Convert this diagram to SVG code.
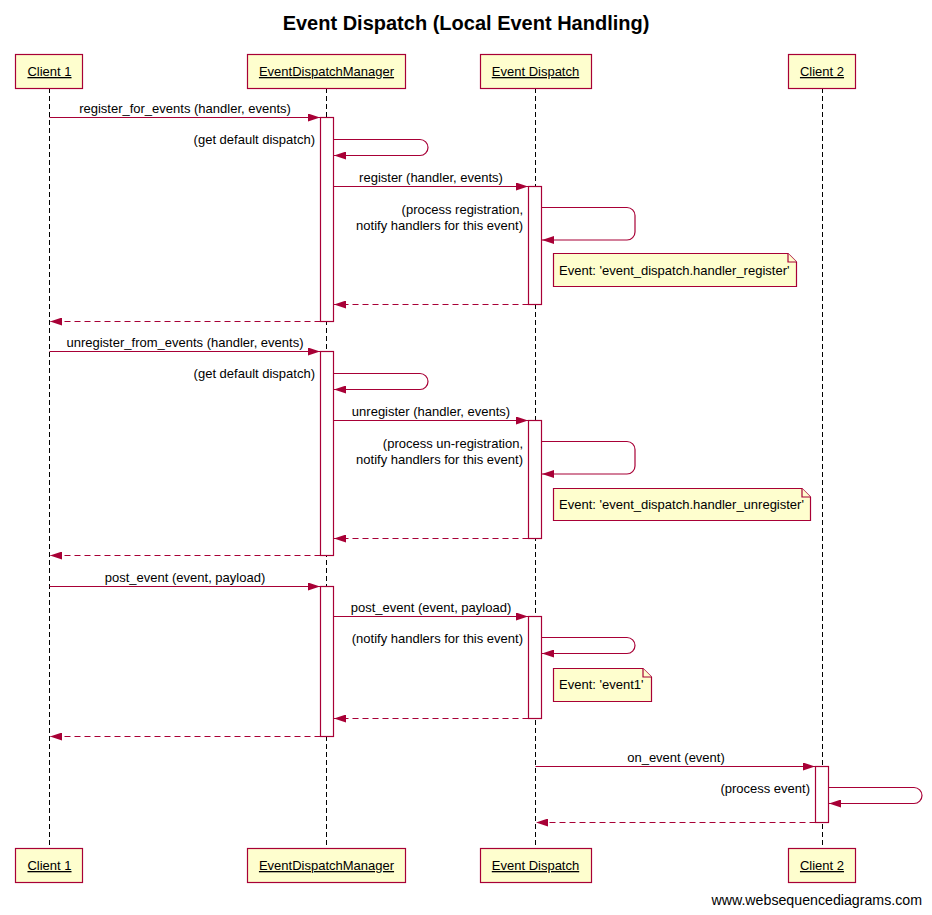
<svg xmlns="http://www.w3.org/2000/svg" width="932" height="915" viewBox="0 0 932 915">
<style>
text{font-family:"Liberation Sans",Arial,sans-serif;font-size:13px;fill:#000}
.title{font-size:20px;font-weight:bold}
.foot{font-size:14.2px}
.pbox{fill:#FEFECE;stroke:#A80036;stroke-width:1.2}
.pt{text-decoration:underline;text-anchor:middle}
.life{stroke:#000;stroke-width:1;stroke-dasharray:5,3;fill:none}
.act{fill:#fff;stroke:#A80036;stroke-width:1.2}
.msg{stroke:#A80036;stroke-width:1.2;fill:none;marker-end:url(#ah)}
.ret{stroke:#A80036;stroke-width:1.2;fill:none;stroke-dasharray:6,4;marker-end:url(#ah)}
.note{fill:#FEFECE;stroke:#A80036;stroke-width:1.2}
.mid{text-anchor:middle}
.end{text-anchor:end}
</style>
<defs>
<marker id="ah" markerWidth="12" markerHeight="8" refX="12" refY="4" orient="auto" markerUnits="userSpaceOnUse">
<path d="M0,0 L12,4 L0,8 Z" fill="#A80036"/>
</marker>
</defs>
<rect width="932" height="915" fill="#fff"/>
<text class="title mid" x="466" y="30">Event Dispatch (Local Event Handling)</text>

<g id="lifelines">
<line class="life" x1="49.5" y1="88" x2="49.5" y2="848"/>
<line class="life" x1="326.5" y1="88" x2="326.5" y2="848"/>
<line class="life" x1="535.5" y1="88" x2="535.5" y2="848"/>
<line class="life" x1="822.5" y1="88" x2="822.5" y2="848"/>
</g>

<g id="client1">
<rect class="pbox" x="15.5" y="54.5" width="67" height="34"/>
<text class="pt" x="49.5" y="76">Client 1</text>
<rect class="pbox" x="15.5" y="848.5" width="67" height="34"/>
<text class="pt" x="49.5" y="870">Client 1</text>
</g>
<g id="edm">
<rect class="pbox" x="247.5" y="54.5" width="158" height="34"/>
<text class="pt" x="326.5" y="76">EventDispatchManager</text>
<rect class="pbox" x="247.5" y="848.5" width="158" height="34"/>
<text class="pt" x="326.5" y="870">EventDispatchManager</text>
</g>
<g id="eventdispatch">
<rect class="pbox" x="480.5" y="54.5" width="111" height="34"/>
<text class="pt" x="535.5" y="76">Event Dispatch</text>
<rect class="pbox" x="480.5" y="848.5" width="111" height="34"/>
<text class="pt" x="535.5" y="870">Event Dispatch</text>
</g>
<g id="client2">
<rect class="pbox" x="788.5" y="54.5" width="67" height="34"/>
<text class="pt" x="822" y="76">Client 2</text>
<rect class="pbox" x="788.5" y="848.5" width="67" height="34"/>
<text class="pt" x="822" y="870">Client 2</text>
</g>

<g id="activations">
<rect class="act" x="320.5" y="117.5" width="13" height="204"/>
<rect class="act" x="528.5" y="186.5" width="13" height="118"/>
<rect class="act" x="320.5" y="351.5" width="13" height="204"/>
<rect class="act" x="528.5" y="420.5" width="13" height="118"/>
<rect class="act" x="320.5" y="586.5" width="13" height="150"/>
<rect class="act" x="528.5" y="616.5" width="13" height="102"/>
<rect class="act" x="815.5" y="766.5" width="13" height="56"/>
</g>

<g id="connectors">
<line class="msg" x1="49.5" y1="117.5" x2="320" y2="117.5"/>
<path class="msg" d="M333.5,139.5 H420 A8,8 0 0 1 428,147.5 A8,8 0 0 1 420,155.5 H334"/>
<line class="msg" x1="333.5" y1="186.5" x2="528" y2="186.5"/>
<path class="msg" d="M541.5,207.5 H627 A8,8 0 0 1 635,215.5 V232 A8,8 0 0 1 627,240 H542"/>
<line class="ret" x1="528.5" y1="304.5" x2="334" y2="304.5"/>
<line class="ret" x1="320.5" y1="321.5" x2="50" y2="321.5"/>

<line class="msg" x1="49.5" y1="351.5" x2="320" y2="351.5"/>
<path class="msg" d="M333.5,373.5 H420 A8,8 0 0 1 428,381.5 A8,8 0 0 1 420,389.5 H334"/>
<line class="msg" x1="333.5" y1="420.5" x2="528" y2="420.5"/>
<path class="msg" d="M541.5,441.5 H627 A8,8 0 0 1 635,449.5 V466 A8,8 0 0 1 627,474 H542"/>
<line class="ret" x1="528.5" y1="538.5" x2="334" y2="538.5"/>
<line class="ret" x1="320.5" y1="555.5" x2="50" y2="555.5"/>

<line class="msg" x1="49.5" y1="586.5" x2="320" y2="586.5"/>
<line class="msg" x1="333.5" y1="616.5" x2="528" y2="616.5"/>
<path class="msg" d="M541.5,637.5 H627 A8,8 0 0 1 635,645.5 A8,8 0 0 1 627,653.5 H542"/>
<line class="ret" x1="528.5" y1="718.5" x2="334" y2="718.5"/>
<line class="ret" x1="320.5" y1="736.5" x2="50" y2="736.5"/>

<line class="msg" x1="535.5" y1="766.5" x2="815" y2="766.5"/>
<path class="msg" d="M828.5,787.5 H914 A8,8 0 0 1 922,795.5 A8,8 0 0 1 914,803.5 H829"/>
<line class="ret" x1="815.5" y1="822.5" x2="536" y2="822.5"/>
</g>

<g id="labels">
<text class="mid" x="185" y="113">register_for_events (handler, events)</text>
<text class="end" x="315" y="144">(get default dispatch)</text>
<text class="mid" x="431" y="182">register (handler, events)</text>
<text class="end" x="523" y="214">(process registration,</text>
<text class="end" x="523" y="230">notify handlers for this event)</text>

<text class="mid" x="185" y="347">unregister_from_events (handler, events)</text>
<text class="end" x="315" y="378">(get default dispatch)</text>
<text class="mid" x="431" y="416">unregister (handler, events)</text>
<text class="end" x="523" y="448">(process un-registration,</text>
<text class="end" x="523" y="464">notify handlers for this event)</text>

<text class="mid" x="185" y="582">post_event (event, payload)</text>
<text class="mid" x="431" y="612">post_event (event, payload)</text>
<text class="end" x="523" y="643">(notify handlers for this event)</text>

<text class="mid" x="676" y="762">on_event (event)</text>
<text class="end" x="810" y="793">(process event)</text>
</g>

<g id="note1">
<path class="note" d="M553.5,253.5 H788 L796.5,262 V286.5 H553.5 Z"/>
<path class="note" d="M788,253.5 V262 H796.5" fill="none"/>
<text x="559" y="275">Event: 'event_dispatch.handler_register'</text>
</g>
<g id="note2">
<path class="note" d="M553.5,488.5 H802 L810.5,497 V520.5 H553.5 Z"/>
<path class="note" d="M802,488.5 V497 H810.5" fill="none"/>
<text x="559" y="509">Event: 'event_dispatch.handler_unregister'</text>
</g>
<g id="note3">
<path class="note" d="M553.5,668.5 H643 L651.5,677 V701.5 H553.5 Z"/>
<path class="note" d="M643,668.5 V677 H651.5" fill="none"/>
<text x="559" y="689">Event: 'event1'</text>
</g>

<text class="end foot" x="922" y="905">www.websequencediagrams.com</text>
</svg>
